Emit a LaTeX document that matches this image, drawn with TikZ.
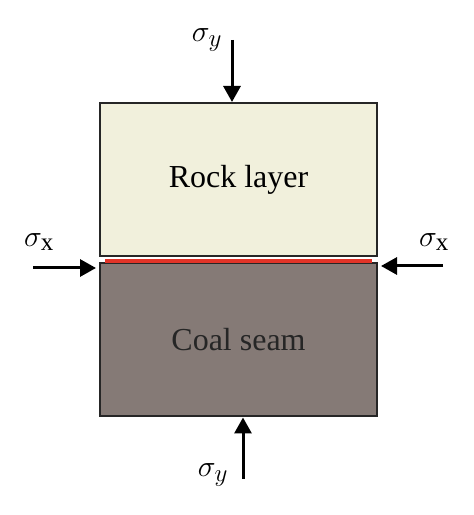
\RequirePackage{fix-cm}
\documentclass[tikz,border=0pt]{standalone}
\usepackage{fontspec}
\setmainfont{Liberation Serif}
\DeclareMathSizes{30}{30}{25}{20}
\usetikzlibrary{arrows.meta}
\definecolor{rockfill}{RGB}{241,240,220}
\definecolor{coalfill}{RGB}{133,122,118}
\definecolor{seamred}{RGB}{226,52,40}
\begin{document}
\begin{tikzpicture}[x=1pt,y=1pt,
    layer/.style={draw=black!85,line width=2pt,minimum width=277pt,
        minimum height=153pt,inner sep=0pt,font=\fontsize{32}{38}\selectfont},
    load/.style={line width=3pt,-{Triangle[width=17pt,length=16pt]}},
    lbl/.style={inner sep=0pt,font=\fontsize{30}{36}\selectfont}]
    \useasboundingbox (0,0) rectangle (474,515);

    % the layers

    \node[layer,fill=rockfill] (rock) at (238.5,335.5) {Rock layer};
    \node[layer,fill=coalfill,text=black!85] (coal) at (238.5,175) {Coal seam};
    \draw[seamred,line width=3.5pt] ([xshift=6pt,yshift=-4pt]rock.south west)
    -- ([xshift=-6pt,yshift=-4pt]rock.south east);

    % the loads

    \coordinate (ytop) at (232,475);
    \coordinate (ybot) at (243,36);
    \coordinate (xleft) at (33,247);
    \coordinate (xright) at (443,249);

    \node[lbl] (sytop) at (207,475) {$\sigma_y$};
    \node[lbl] (sybot) at (213,40) {$\sigma_y$};
    \node[lbl] (sxleft) at (39,273) {$\sigma_{\mathrm{x}}$};
    \node[lbl] (sxright) at (434,273) {$\sigma_{\mathrm{x}}$};

    \draw[load] (ytop) -- (ytop |- rock.north);
    \draw[load] (ybot) -- (ybot |- coal.south);
    \draw[load] (xleft) -- ([xshift=-3pt]xleft -| coal.west);
    \draw[load] (xright) -- ([xshift=3pt]xright -| coal.east);
\end{tikzpicture}
\end{document}
